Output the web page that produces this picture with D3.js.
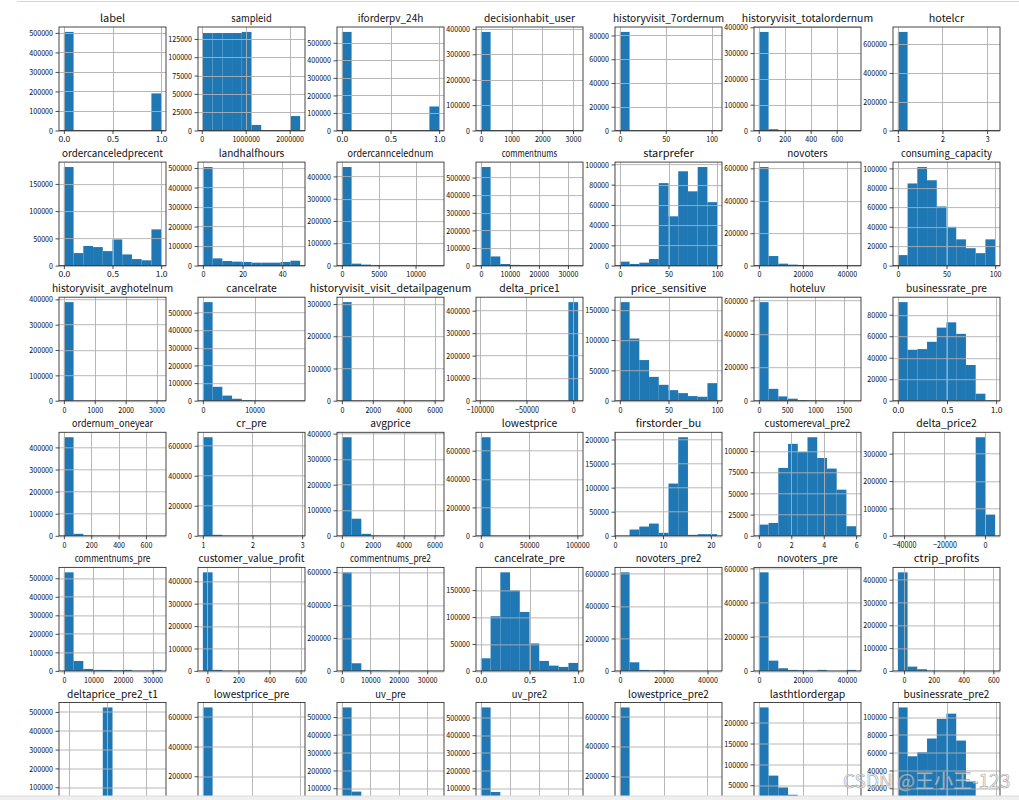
<!DOCTYPE html>
<html><head><meta charset="utf-8">
<script src="https://cdn.jsdelivr.net/npm/d3@7"></script>
<style>body{margin:0;background:#fff;overflow:hidden} svg{display:block}</style>
</head><body>
<svg id="c" width="1019" height="800"></svg>
<script>
const names = ["label","sampleid","iforderpv_24h","decisionhabit_user","historyvisit_7ordernum","historyvisit_totalordernum","hotelcr",
"ordercanceledprecent","landhalfhours","ordercanncelednum","commentnums","starprefer","novoters","consuming_capacity",
"historyvisit_avghotelnum","cancelrate","historyvisit_visit_detailpagenum","delta_price1","price_sensitive","hoteluv","businessrate_pre",
"ordernum_oneyear","cr_pre","avgprice","lowestprice","firstorder_bu","customereval_pre2","delta_price2",
"commentnums_pre","customer_value_profit","commentnums_pre2","cancelrate_pre","novoters_pre2","novoters_pre","ctrip_profits",
"deltaprice_pre2_t1","lowestprice_pre","uv_pre","uv_pre2","lowestprice_pre2","lasthtlordergap","businessrate_pre2"];

const xMin = [0,24636,0,0,0,1,1,
  0,0,0,0,0,0,0,
  0,0,0,-98800,0,0,0,
  0,1,0,0,1,0,-43050,
  0,-29,0,0,0,0,-41,
  -1124,0,0,0,0,0,0];
const xMax = [1,2238426,1,3167,106,750,3.18,
  1,49,13200,33500,100,44200,100,
  3150,18830,6290,5250,100,1720,0.99,
  711,2.96,6300,100800,21.3,6,5036,
  32860,597,34200,1,44400,44200,612,
  1401,100000,34200,33500,44400,44200,0.99];

const counts = [
  [505000,0,0,0,0,0,0,0,0,190000],
  [133000,133000,133000,133000,134500,7600,0,0,0,19700],
  [562000,0,0,0,0,0,0,0,0,137000],
  [388000,300,50,10,0,0,0,0,0,5],
  [83000,50,10,0,0,0,0,0,0,5],
  [382000,5000,300,50,10,0,0,0,0,5],
  [685000,300,50,10,0,0,0,0,0,5],
  [181000,23000,36000,34000,26600,48000,20500,12000,9700,66500],
  [505000,37000,23700,20300,18600,15000,15000,15000,18600,25000],
  [442000,8800,4400,1000,200,50,10,0,0,5],
  [560000,52000,9000,4000,2000,800,300,100,50,20],
  [3900,1600,2900,6500,81500,48700,93200,73400,97400,62700],
  [608000,59000,12000,6000,4000,1500,800,300,100,50],
  [10800,84500,101400,87800,60800,39900,27000,17900,12800,27000],
  [389000,300,50,10,0,0,0,0,0,5],
  [560000,79000,29000,11000,3000,800,200,50,10,5],
  [306000,300,50,10,0,0,0,0,0,5],
  [5,0,0,0,0,0,0,0,10,438000],
  [162500,102500,67000,39300,26200,17400,12500,7600,6500,28900],
  [590000,71000,25700,12000,4000,1500,500,200,50,20],
  [91700,47400,48000,54800,68000,72900,62200,33200,6500,300],
  [446000,9000,1500,300,50,10,0,0,0,5],
  [657000,6600,500,100,20,0,0,0,0,5],
  [386000,67000,7700,1000,200,50,10,0,0,5],
  [695000,100,10,0,0,0,0,0,0,5],
  [0,13000,19200,25400,6200,108500,204700,2000,3400,3400],
  [13200,15200,80100,108500,98800,116300,91800,79300,54400,11300],
  [5,0,0,0,0,0,0,10,360000,77400],
  [532000,53600,10700,5300,5300,3500,5300,500,300,5000],
  [440000,4400,300,50,10,0,0,0,0,5],
  [598000,46300,6000,4000,2500,800,300,100,50,20],
  [23400,101500,183000,149500,109500,51000,18500,9800,7400,14800],
  [608000,53000,6000,4000,4000,800,300,100,50,20],
  [577000,60000,15600,5800,3900,1500,5800,200,100,5800],
  [432000,18800,7200,1000,200,50,10,0,0,5],
  [5,10,100,2000,524000,3000,200,50,10,5],
  [663000,100,10,0,0,0,0,0,0,5],
  [554000,81000,9000,3000,1000,500,200,100,50,20],
  [557000,79000,9000,3000,1000,500,200,100,50,20],
  [660000,200,20,0,0,0,0,0,0,5],
  [236700,73000,44500,27000,15000,9000,5000,3000,1500,800],
  [111000,56000,60500,76000,98000,104000,73700,27600,5000,300]
];

const xTicks = [
  [0,0.5,1],[0,1000000,2000000],[0,0.5,1],[0,1000,2000,3000],[0,50,100],[0,200,400,600],[1,2,3],
  [0,0.5,1],[0,20,40],[0,5000,10000],[0,10000,20000,30000],[0,50,100],[0,20000,40000],[0,50,100],
  [0,1000,2000,3000],[0,10000],[0,2000,4000,6000],[-100000,-50000,0],[0,50,100],[0,500,1000,1500],[0,0.5,1],
  [0,200,400,600],[1,2,3],[0,2000,4000,6000],[0,50000,100000],[0,10,20],[0,2,4,6],[-40000,-20000,0],
  [0,10000,20000,30000],[0,200,400,600],[0,10000,20000,30000],[0,0.5,1],[0,20000,40000],[0,20000,40000],[0,200,400,600],
  [-1000,0,1000],[0,50000,100000],[0,10000,20000,30000],[0,10000,20000,30000],[0,20000,40000],[0,20000,40000],[0,0.5,1]
];
const yStep = [100000,25000,100000,100000,20000,100000,200000,
  50000,100000,100000,100000,20000,200000,20000,
  100000,100000,100000,100000,50000,200000,20000,
  100000,200000,100000,200000,50000,25000,100000,
  100000,100000,200000,50000,200000,200000,100000,
  100000,200000,100000,100000,200000,50000,20000];

const svg = d3.select('#c');
const FONT = "'Noto Sans CJK SC', 'DejaVu Sans', sans-serif";
const colL = 59, colStep = 139, pw = 107, rowT = 27, rowStep = 135.1, ph = 103.5;
const visibleBottom = 793; // the window cuts the last row off here

// top border line of the output cell
svg.append('line').attr('x1',17).attr('x2',1019).attr('y1',1.5).attr('y2',1.5)
  .attr('stroke','#d6d6d6').attr('stroke-width',1);

names.forEach((name, i) => {
  const r = Math.floor(i / 7), c = i % 7;
  const x0 = colL + c * colStep, y0 = rowT + r * rowStep;
  const g = svg.append('g').attr('transform', `translate(${x0},${y0})`);
  const lo = xMin[i], hi = xMax[i], R = hi - lo;
  const x = d3.scaleLinear().domain([lo - 0.05 * R, hi + 0.05 * R]).range([0, pw]);
  const cmax = d3.max(counts[i]);
  const y = d3.scaleLinear().domain([0, cmax * 1.05]).range([ph, 0]);
  const w = R / 10;
  const bins = counts[i].map((v, k) => ({a: lo + k * w, b: lo + (k + 1) * w, v}));

  g.selectAll('rect.bar').data(bins).join('rect').attr('class','bar')
    .attr('x', d => x(d.a)).attr('width', d => x(d.b) - x(d.a))
    .attr('y', d => y(d.v)).attr('height', d => ph - y(d.v))
    .attr('fill', '#1f77b4');

  const yt = d3.range(0, cmax * 1.05 + 1, yStep[i]);
  const xt = xTicks[i];
  const decimal = xt.some(t => !Number.isInteger(t));
  const xf = decimal ? d3.format('.1f') : d3.format('d');
  const yf = d3.format('d');

  // grid (drawn above bars like matplotlib default)
  g.selectAll('line.gx').data(xt).join('line').attr('class','gx')
    .attr('x1', d => Math.round(x(d)) + 0.5).attr('x2', d => Math.round(x(d)) + 0.5)
    .attr('y1', 0).attr('y2', ph).attr('stroke', '#b0b0b0').attr('stroke-width', 0.9);
  g.selectAll('line.gy').data(yt).join('line').attr('class','gy')
    .attr('y1', d => Math.round(y(d)) + 0.5).attr('y2', d => Math.round(y(d)) + 0.5)
    .attr('x1', 0).attr('x2', pw).attr('stroke', '#b0b0b0').attr('stroke-width', 0.9);

  const ax = g.append('g').attr('transform', `translate(0,${ph})`)
    .call(d3.axisBottom(x).tickValues(xt).tickFormat(xf).tickSize(3.5).tickPadding(2.5));
  const ay = g.append('g')
    .call(d3.axisLeft(y).tickValues(yt).tickFormat(yf).tickSize(3.5).tickPadding(2.5));
  [ax, ay].forEach(a => {
    a.select('.domain').remove();
    a.selectAll('line').attr('stroke', '#222').attr('stroke-width', 0.8);
    a.selectAll('text').attr('font-family', FONT).attr('font-size', 8.3).attr('fill', '#111')
      .each(function() {
        const t = d3.select(this); const s = t.text();
        t.attr('textLength', s.length * 3.95).attr('lengthAdjust', 'spacingAndGlyphs');
      });
  });
  // labels that fall below the window edge are not visible in the screenshot
  if (y0 + ph + 4 > visibleBottom) ax.selectAll('text').remove();
  ay.selectAll('.tick').filter(d => y0 + y(d) + 4 > visibleBottom).select('text').remove();

  g.append('rect').attr('x', 0).attr('y', 0).attr('width', pw).attr('height', ph)
    .attr('fill', 'none').attr('stroke', '#333').attr('stroke-width', 0.9);

  g.append('text').attr('x', pw / 2).attr('y', -5).attr('text-anchor', 'middle')
    .attr('font-family', FONT).attr('font-size', 10.5).attr('fill', '#111')
    .attr('textLength', name.length * 5.05).attr('lengthAdjust', 'spacingAndGlyphs')
    .text(name);
});

// bottom strip of the notebook window
svg.append('rect').attr('x', 0).attr('y', 796).attr('width', 1019).attr('height', 4).attr('fill', '#efefef');
svg.append('line').attr('x1', 0).attr('x2', 1019).attr('y1', 796).attr('y2', 796).attr('stroke', '#dddddd');

// watermark
svg.append('text').attr('x', 843).attr('y', 788).attr('font-family', FONT).attr('font-size', 19)
  .attr('fill', '#ffffff').attr('fill-opacity', 0.55).attr('stroke', '#8c8c8c').attr('stroke-width', 0.7)
  .attr('stroke-opacity', 0.75).text('CSDN @王小王-123');
</script>
</body></html>
